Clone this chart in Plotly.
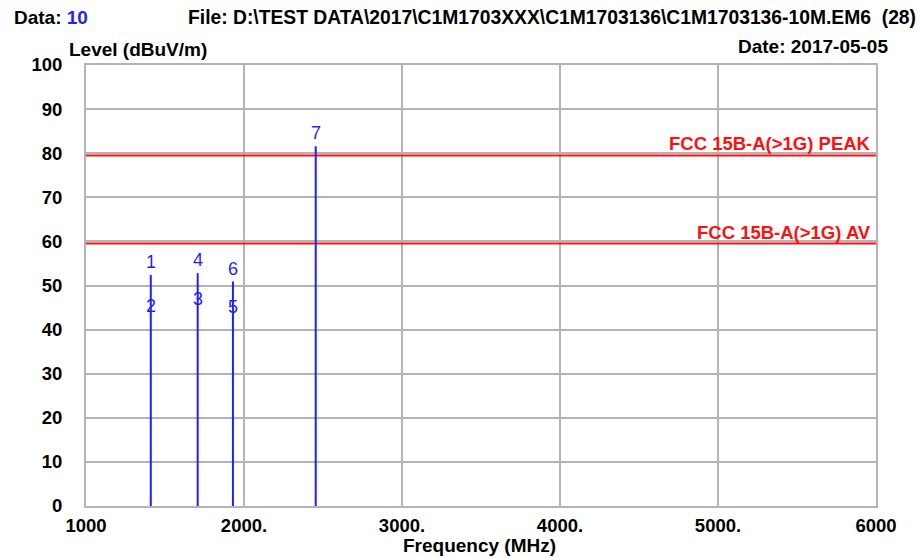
import plotly.graph_objects as go

# ---- data ----
marker_ids = ["1", "2", "3", "4", "5", "6", "7"]
marker_freq = [1410, 1410, 1707, 1707, 1930, 1930, 2454]
marker_level = [52.4, 42.4, 44.0, 52.8, 42.2, 50.9, 81.6]
peak_ids = ["1", "4", "6", "7"]  # markers whose value draws the vertical line

limit_names = ["FCC 15B-A(>1G) PEAK", "FCC 15B-A(>1G) AV"]
limit_levels = [79.5, 59.5]

x_tickvals = [1000, 2000, 3000, 4000, 5000, 6000]
x_ticktext = ["1000", "2000.", "3000.", "4000.", "5000.", "6000"]
y_tickvals = [0, 10, 20, 30, 40, 50, 60, 70, 80, 90, 100]

FONT = "Liberation Sans"
BLUE = "#1f1fff"
RED = "#ff1010"
W, H = 921, 558
ML, MR, MT, MB = 86, 45, 65, 52

fig = go.Figure()

# limit lines
for name, lv in zip(limit_names, limit_levels):
    fig.add_trace(go.Scatter(x=[1000, 6000], y=[lv, lv], mode="lines",
                             line=dict(color=RED, width=2), hoverinfo="skip",
                             showlegend=False))
    fig.add_annotation(x=6000, y=lv, xref="x", yref="y", text="<b>" + name + "</b>",
                       showarrow=False, xanchor="right", yanchor="bottom",
                       xshift=-3, yshift=-1,
                       font=dict(family=FONT, size=18.5, color=RED))

# marker vertical lines
for mid, f, lv in zip(marker_ids, marker_freq, marker_level):
    if mid in peak_ids:
        fig.add_trace(go.Scatter(x=[f, f], y=[0, lv], mode="lines",
                                 line=dict(color=BLUE, width=2), hoverinfo="skip",
                                 showlegend=False))
for mid, f, lv in zip(marker_ids, marker_freq, marker_level):
    fig.add_annotation(x=f, y=lv, xref="x", yref="y", text=mid, showarrow=False,
                       yanchor="bottom", yshift=1,
                       font=dict(family=FONT, size=18, color=BLUE))

# header texts (pixel positions converted to paper coords)
header = [
    (12, 17, "left", 19, "<b>Data: <span style='color:#1f1fff'>10</span></b>"),
    (186, 17, "right", 19.3, "<b>File: D:\\TEST DATA\\2017\\C1M1703XXX\\C1M1703136\\C1M1703136-10M.EM6  (28)</b>"),
    (890, 47, "right", 19, "<b>Date: 2017-05-05</b>"),
    (67, 49, "left", 19, "<b>Level (dBuV/m)</b>"),
    (479, 545, "center", 19, "<b>Frequency (MHz)</b>"),
]
pw = W - ML - MR
ph = H - MT - MB
for px, py, anc, sz, txt in header:
    if anc == "right" and px < 300:
        px, anc = 918, "right"
    fig.add_annotation(x=(px - ML) / pw, y=(H - MB - py) / ph, xref="paper", yref="paper",
                       text=txt, showarrow=False, xanchor=anc, yanchor="middle",
                       font=dict(family=FONT, size=sz, color="black"))

fig.update_layout(
    width=W, height=H,
    margin=dict(l=ML, r=MR, t=MT, b=MB),
    paper_bgcolor="white", plot_bgcolor="white",
    font=dict(family=FONT, size=16, color="black"),
    showlegend=False,
    xaxis=dict(range=[1000, 6000], tickvals=x_tickvals, ticktext=x_ticktext,
               showgrid=True, gridcolor="#b4b4b4", gridwidth=2,
               showline=True, linecolor="#b4b4b4", linewidth=2, mirror=True,
               zeroline=False, ticks="", ticklabelstandoff=2,
               tickfont=dict(family=FONT, size=18.5, color="black", weight="bold")),
    yaxis=dict(range=[0, 100], tickvals=y_tickvals,
               showgrid=True, gridcolor="#b4b4b4", gridwidth=2,
               showline=True, linecolor="#b4b4b4", linewidth=2, mirror=True,
               zeroline=False, ticks="", ticklabelstandoff=18,
               tickfont=dict(family=FONT, size=18.5, color="black", weight="bold")),
)

fig.write_html("out.html")
